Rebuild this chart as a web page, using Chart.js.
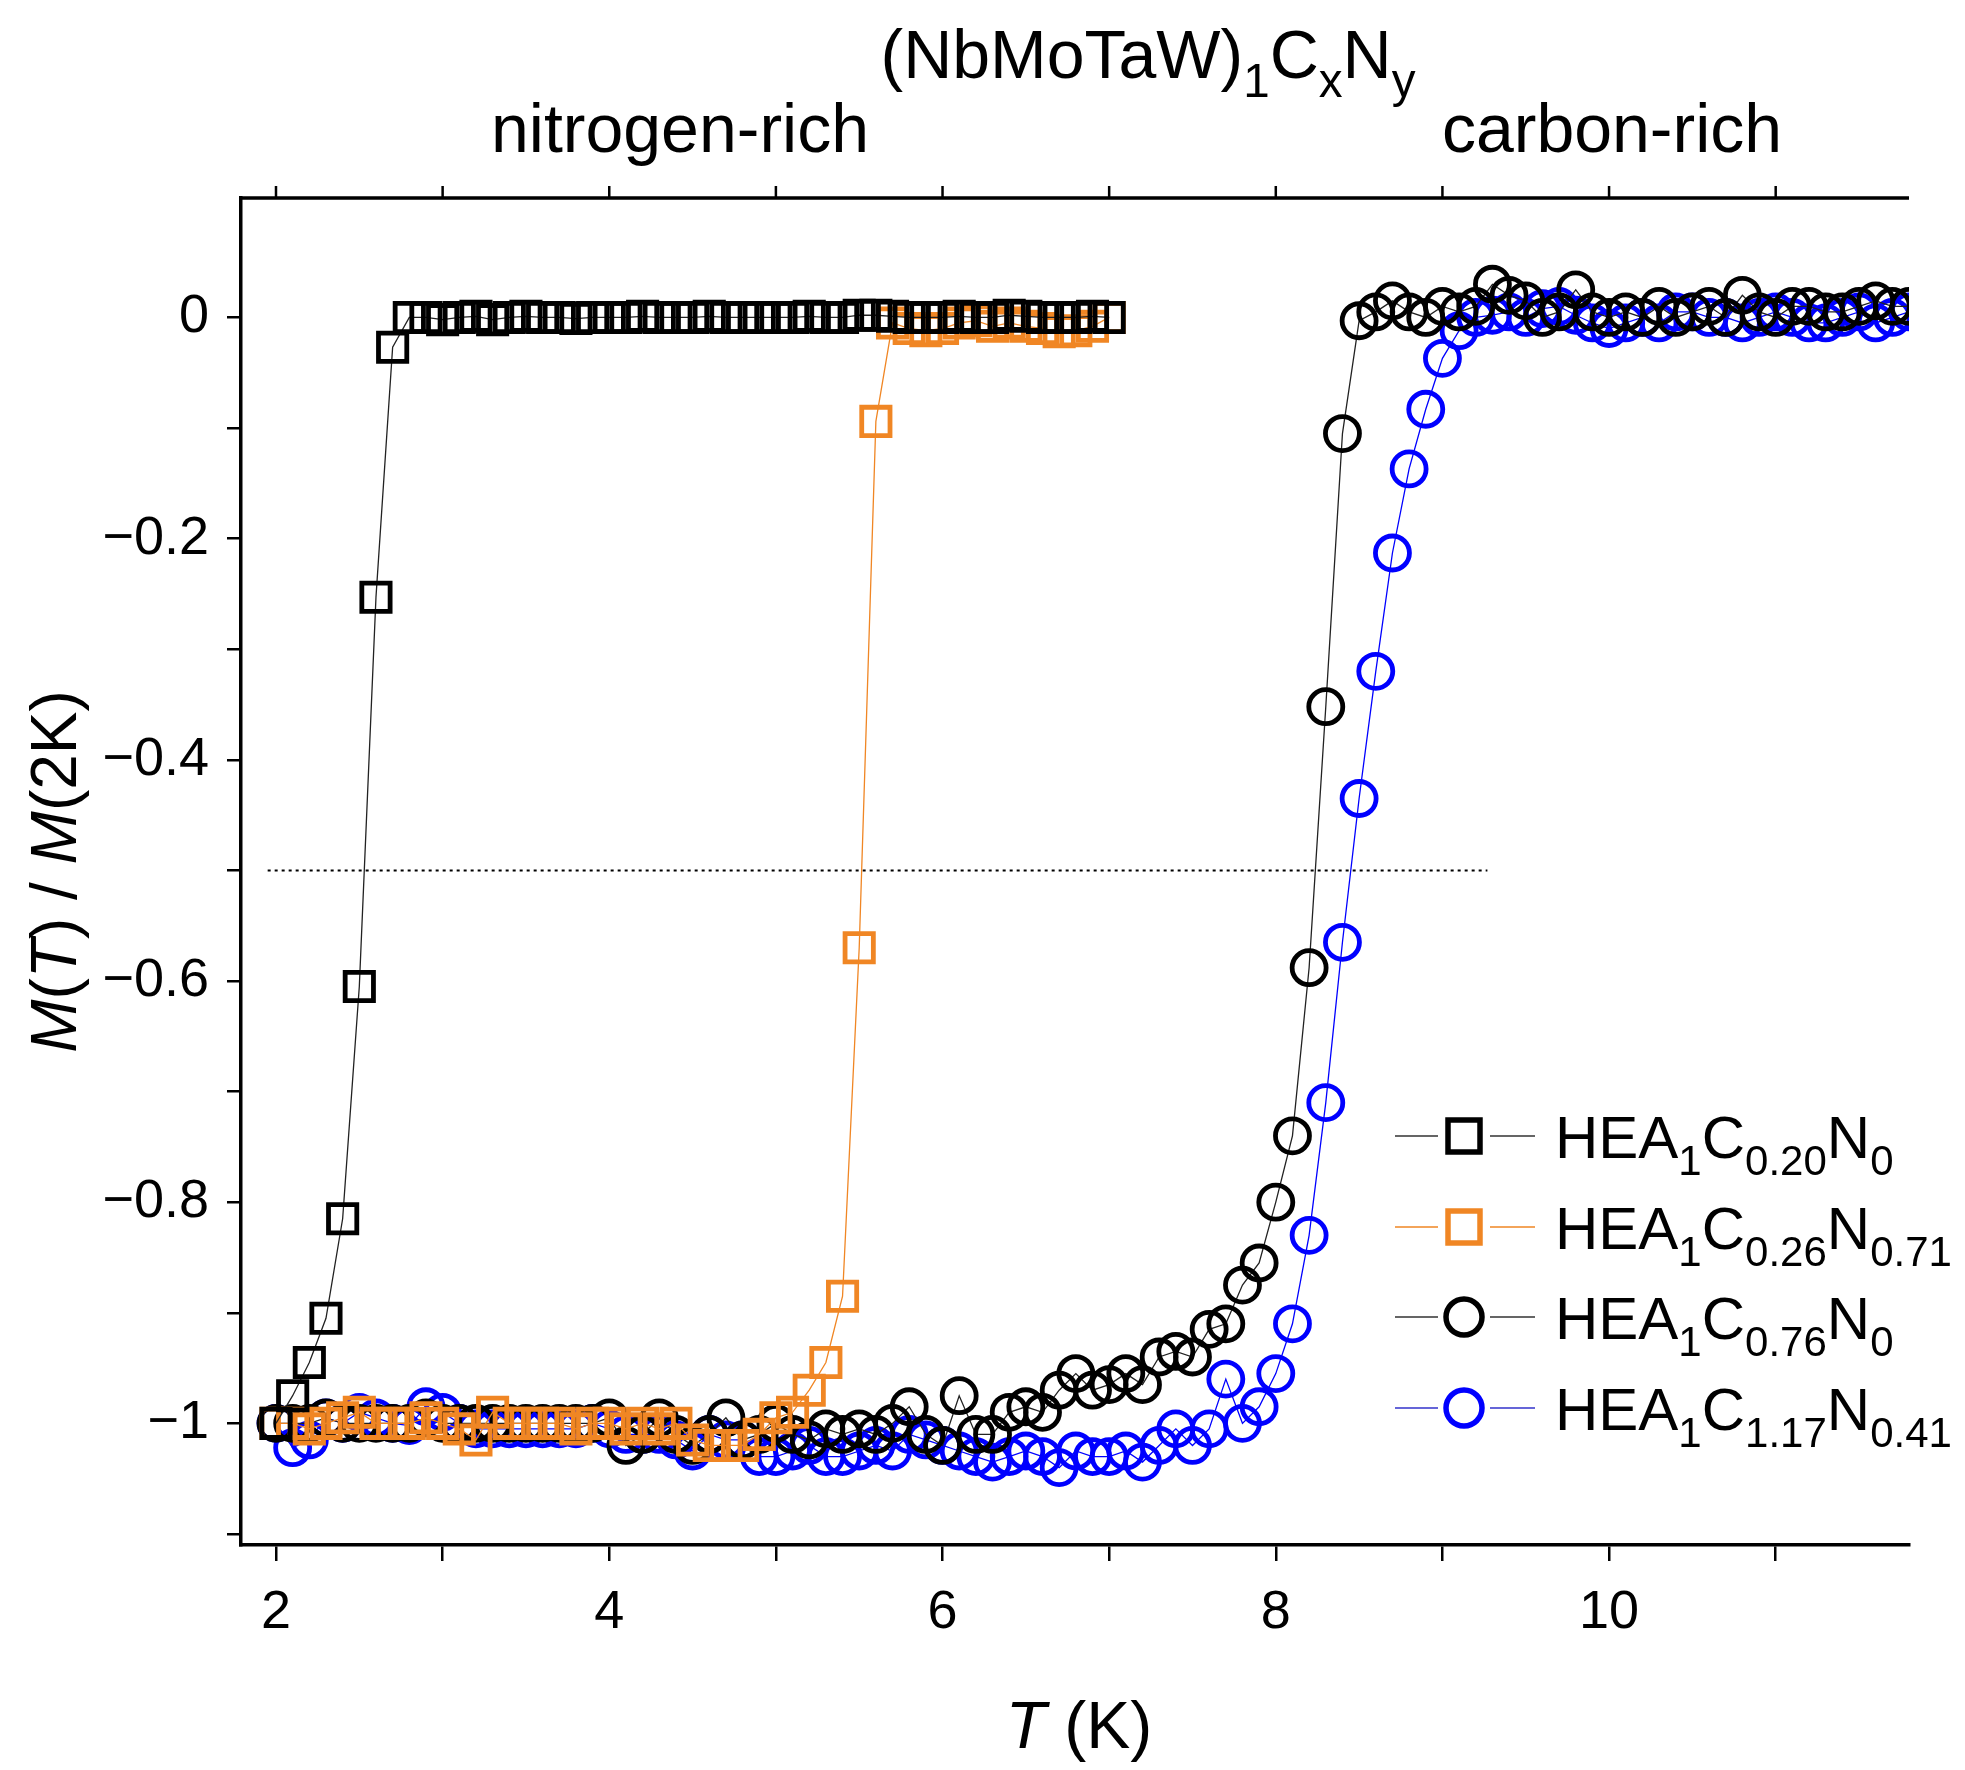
<!DOCTYPE html>
<html><head><meta charset="utf-8">
<script src="https://cdn.jsdelivr.net/npm/chart.js@4"></script>
<style>body{margin:0;background:#fff}#w{width:1965px;height:1770px}</style>
</head><body><div id="w"><canvas id="c"></canvas></div>
<script>
const sqBlackT = [2.0,2.1,2.2,2.3,2.4,2.5,2.6,2.7,2.8,2.9,3.0,3.1,3.2,3.3,3.4,3.5,3.6,3.7,3.8,3.9,4.0,4.1,4.2,4.3,4.4,4.5,4.6,4.7,4.8,4.9,5.0,5.1,5.2,5.3,5.4,5.5,5.6,5.7,5.8,5.9,6.0,6.1,6.2,6.3,6.4,6.5,6.6,6.7,6.8,6.9,7.0];
const sqBlackM = [-1.0,-0.975,-0.945,-0.905,-0.815,-0.605,-0.253,-0.027,0,0,-0.002,0,0.001,-0.002,0,0.001,0,0,-0.001,0,0,0,0.001,0,0,0,0.001,0,0,0,0,0,0.001,0,0,0.002,0.002,0.001,0,0,0,0.001,0,0,0.002,0.001,0,0,0,0.001,0];
const sqOrangeT = [2.0,2.1,2.2,2.3,2.4,2.5,2.6,2.7,2.8,2.9,3.0,3.1,3.2,3.3,3.4,3.5,3.6,3.7,3.8,3.9,4.0,4.1,4.2,4.3,4.4,4.5,4.6,4.7,4.8,4.9,5.0,5.1,5.2,5.3,5.4,5.5,5.6,5.7,5.8,5.9,6.0,6.1,6.2,6.3,6.4,6.5,6.6,6.7,6.8,6.9,7.0];
const sqOrangeM = [-1.0,-1.0,-1.005,-1.0,-0.995,-0.99,-1.0,-1.0,-1.0,-0.995,-1.0,-1.005,-1.015,-0.99,-1.0,-1.0,-1.0,-1.0,-1.005,-1.0,-1.0,-1.005,-1.0,-1.005,-1.0,-1.015,-1.02,-1.02,-1.02,-1.01,-0.995,-0.99,-0.97,-0.945,-0.885,-0.57,-0.094,-0.005,-0.01,-0.012,-0.01,-0.005,-0.003,-0.008,-0.005,-0.008,-0.01,-0.013,-0.012,-0.008,0];
const ciBlackT = [2.0,2.1,2.2,2.3,2.4,2.5,2.6,2.7,2.8,2.9,3.0,3.1,3.2,3.3,3.4,3.5,3.6,3.7,3.8,3.9,4.0,4.1,4.2,4.3,4.4,4.5,4.6,4.7,4.8,4.9,5.0,5.1,5.2,5.3,5.4,5.5,5.6,5.7,5.8,5.9,6.0,6.1,6.2,6.3,6.4,6.5,6.6,6.7,6.8,6.9,7.0,7.1,7.2,7.3,7.4,7.5,7.6,7.7,7.8,7.9,8.0,8.1,8.2,8.3,8.4,8.5,8.6,8.7,8.8,8.9,9.0,9.1,9.2,9.3,9.4,9.5,9.6,9.7,9.8,9.9,10.0,10.1,10.2,10.3,10.4,10.5,10.6,10.7,10.8,10.9,11.0,11.1,11.2,11.3,11.4,11.5,11.6,11.7,11.8];
const ciBlackM = [-1.0,-1.0,-1.0,-0.995,-1.0,-1.0,-1.0,-1.0,-1.0,-0.995,-1.0,-1.0,-1.0,-1.0,-1.0,-1.0,-1.0,-1.0,-1.0,-1.0,-0.995,-1.02,-1.01,-0.995,-1.01,-1.02,-1.01,-0.995,-1.015,-1.01,-1.0,-1.01,-1.015,-1.005,-1.01,-1.005,-1.01,-1.0,-0.985,-1.01,-1.02,-0.975,-1.01,-1.01,-0.99,-0.985,-0.99,-0.97,-0.955,-0.97,-0.965,-0.955,-0.965,-0.94,-0.935,-0.94,-0.915,-0.91,-0.875,-0.855,-0.80,-0.74,-0.588,-0.352,-0.105,-0.003,0.005,0.015,0.005,0.0,0.01,0.005,0.01,0.03,0.02,0.015,0.0,0.005,0.025,0.005,0.0,0.005,0.0,0.01,0.0,0.005,0.01,0.0,0.02,0.005,0.0,0.01,0.01,0.005,0.005,0.01,0.015,0.01,0.01];
const ciBlueT = [2.0,2.1,2.2,2.3,2.4,2.5,2.6,2.7,2.8,2.9,3.0,3.1,3.2,3.3,3.4,3.5,3.6,3.7,3.8,3.9,4.0,4.1,4.2,4.3,4.4,4.5,4.6,4.7,4.8,4.9,5.0,5.1,5.2,5.3,5.4,5.5,5.6,5.7,5.8,5.9,6.0,6.1,6.2,6.3,6.4,6.5,6.6,6.7,6.8,6.9,7.0,7.1,7.2,7.3,7.4,7.5,7.6,7.7,7.8,7.9,8.0,8.1,8.2,8.3,8.4,8.5,8.6,8.7,8.8,8.9,9.0,9.1,9.2,9.3,9.4,9.5,9.6,9.7,9.8,9.9,10.0,10.1,10.2,10.3,10.4,10.5,10.6,10.7,10.8,10.9,11.0,11.1,11.2,11.3,11.4,11.5,11.6,11.7,11.8];
const ciBlueM = [-1.0,-1.022,-1.015,-0.995,-1.0,-0.99,-0.995,-1.0,-1.002,-0.985,-0.99,-1.0,-1.005,-1.005,-1.005,-1.005,-1.005,-1.005,-1.005,-1.0,-1.005,-1.01,-1.01,-1.01,-1.015,-1.025,-1.01,-1.015,-1.015,-1.03,-1.03,-1.025,-1.02,-1.03,-1.03,-1.025,-1.02,-1.025,-1.01,-1.015,-1.02,-1.025,-1.03,-1.035,-1.03,-1.025,-1.03,-1.04,-1.025,-1.03,-1.03,-1.025,-1.035,-1.02,-1.005,-1.02,-1.005,-0.96,-1.0,-0.985,-0.955,-0.91,-0.83,-0.71,-0.565,-0.435,-0.32,-0.213,-0.137,-0.083,-0.037,-0.012,0.0,0.002,0.005,0.0,0.008,0.01,0.002,-0.005,-0.01,-0.005,0.0,-0.005,0.005,0.005,0.0,0.0,-0.005,0.0,0.005,0.0,-0.005,-0.005,0.0,0.005,-0.005,0.0,0.005];
const xTicks = [2,4,6,8,10];
const yTicks = [0,-0.2,-0.4,-0.6,-0.8,-1];
const names = [["HEA","1","C","0.20","N","0"],["HEA","1","C","0.26","N","0.71"],["HEA","1","C","0.76","N","0"],["HEA","1","C","1.17","N","0.41"]];
const ORANGE='#F08624', BLUE='#0000FF';

const pts=(t,m)=>t.map((v,i)=>({x:v,y:m[i]}));
const mk=(t,m,col,shape,r,lc)=>({data:pts(t,m),borderColor:lc,pointBorderColor:col,pointBackgroundColor:'rgba(0,0,0,0)',pointStyle:shape,pointRadius:r,pointBorderWidth:4.8,borderWidth:1.3,showLine:true,tension:0});
const FONT='"Liberation Sans", Arial, sans-serif';

function richText(ctx,parts,x,y,size){
  let cx=x;
  parts.forEach((p,i)=>{const sub=i%2===1;ctx.font=(sub?size*0.7:size)+'px '+FONT;ctx.fillText(p,cx,y+(sub?size*0.28:0));cx+=ctx.measureText(p).width;});
}
const deco={id:'deco',
 beforeDatasetsDraw(ch){const ctx=ch.ctx,x=ch.scales.x,y=ch.scales.y;
  ctx.save();ctx.setLineDash([3,4]);ctx.strokeStyle='#000';ctx.lineWidth=2;
  ctx.beginPath();ctx.moveTo(x.getPixelForValue(1.95),y.getPixelForValue(-0.5));ctx.lineTo(x.getPixelForValue(9.27),y.getPixelForValue(-0.5));ctx.stroke();ctx.restore();},
 afterDraw(ch){const ctx=ch.ctx,a=ch.chartArea,x=ch.scales.x;
  ctx.save();ctx.strokeStyle='#000';ctx.lineWidth=3.5;
  ctx.beginPath();ctx.moveTo(a.left,a.top);ctx.lineTo(a.right,a.top);ctx.stroke();
  ctx.lineWidth=2.5;
  for(let v=2;v<=11;v++){const px=x.getPixelForValue(v);ctx.beginPath();ctx.moveTo(px,a.top);ctx.lineTo(px,a.top-12);ctx.stroke();}
  ctx.fillStyle='#000';ctx.textBaseline='alphabetic';
  ctx.textAlign='left';
  const tparts=["(NbMoTaW)","1","C","x","N","y"];
  let w=0;tparts.forEach((p,i)=>{ctx.font=(i%2?68*0.7:68)+'px '+FONT;w+=ctx.measureText(p).width;});
  richText(ctx,tparts,1148-w/2,78,68);
  ctx.textAlign='center';ctx.font='68px '+FONT;
  ctx.fillText('nitrogen-rich',680,152);ctx.fillText('carbon-rich',1612,152);
  ctx.textAlign='left';ctx.font='italic 66px '+FONT;const tw=ctx.measureText('T').width;ctx.font='66px '+FONT;const kw=ctx.measureText(' (K)').width;
  let sx=1079-(tw+kw)/2;ctx.font='italic 66px '+FONT;ctx.fillText('T',sx,1748);ctx.font='66px '+FONT;ctx.fillText(' (K)',sx+tw,1748);
  ctx.translate(76,(a.top+a.bottom)/2);ctx.rotate(-Math.PI/2);
  const yp=[['M',1],['(',0],['T',1],[') / ',0],['M',1],['(2K)',0]];let yw=0;
  yp.forEach(([s,it])=>{ctx.font=(it?'italic ':'')+'64px '+FONT;yw+=ctx.measureText(s).width;});
  let yx=-yw/2;yp.forEach(([s,it])=>{ctx.font=(it?'italic ':'')+'64px '+FONT;ctx.fillText(s,yx,0);yx+=ctx.measureText(s).width;});
  ctx.restore();
  ctx.save();const rows=[1136,1227,1317,1408];const lcs=['#000',ORANGE,'#000',BLUE];const lines=['#333',ORANGE,'#333','#3333cc'];
  rows.forEach((ry,i)=>{ctx.strokeStyle=lines[i];ctx.lineWidth=1.5;ctx.beginPath();ctx.moveTo(1395,ry);ctx.lineTo(1438,ry);ctx.moveTo(1490,ry);ctx.lineTo(1535,ry);ctx.stroke();
   ctx.strokeStyle=lcs[i];ctx.lineWidth=5.5;ctx.beginPath();
   if(i<2)ctx.rect(1448,ry-16,32,32);else ctx.arc(1464,ry,18,0,2*Math.PI);ctx.stroke();
   ctx.fillStyle='#000';ctx.textAlign='left';richText(ctx,names[i],1555,ry+22,60);});
  ctx.restore();}
};
new Chart(document.getElementById('c'),{type:'scatter',
 data:{datasets:[mk(sqBlackT,sqBlackM,'#000','rect',20,'#222'),mk(sqOrangeT,sqOrangeM,ORANGE,'rect',20,ORANGE),mk(ciBlackT,ciBlackM,'#000','circle',17,'#222'),mk(ciBlueT,ciBlueM,BLUE,'circle',17,BLUE)]},
 options:{responsive:true,maintainAspectRatio:false,animation:false,
  layout:{padding:{left:0,top:198,right:56,bottom:0}},
  plugins:{legend:{display:false},tooltip:{enabled:false}},
  scales:{
   x:{type:'linear',min:1.79,max:11.8,afterFit:s=>{s.height=225;},
    afterBuildTicks:s=>{s.ticks=[2,3,4,5,6,7,8,9,10,11].map(v=>({value:v}));},
    ticks:{callback:v=>xTicks.includes(v)?String(v):'',font:{size:54,family:FONT},color:'#000',padding:20,maxRotation:0,autoSkip:false},
    grid:{drawOnChartArea:false,drawTicks:true,tickLength:16,lineWidth:2.5,color:'#000'},border:{display:true,width:3.5,color:'#000'}},
   y:{type:'linear',min:-1.11,max:0.108,afterFit:s=>{s.width=241;},
    afterBuildTicks:s=>{s.ticks=[-1.1,-1,-0.9,-0.8,-0.7,-0.6,-0.5,-0.4,-0.3,-0.2,-0.1,0].map(v=>({value:v}));},
    ticks:{callback:v=>{const r=Math.round(v*10)/10;if(!yTicks.some(t=>Math.abs(t-r)<1e-6))return '';return r===0?'0':'\u2212'+Math.abs(r).toString();},font:{size:54,family:FONT},color:'#000',padding:18,autoSkip:false},
    grid:{drawOnChartArea:false,drawTicks:true,tickLength:14,lineWidth:2.5,color:'#000'},border:{display:true,width:3.5,color:'#000'}}
  }},plugins:[deco]});
</script></body></html>
